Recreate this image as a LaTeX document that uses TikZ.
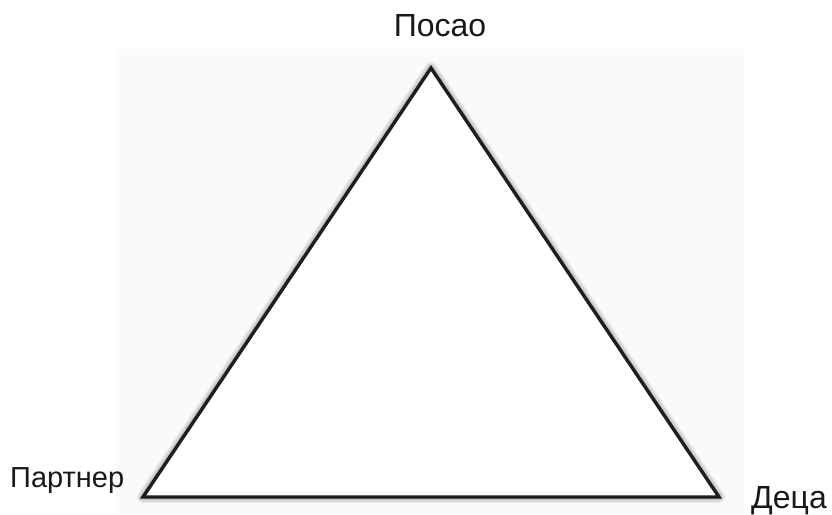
\documentclass[tikz,border=0pt]{standalone}
\usepackage{fontspec}
\setmainfont{Liberation Sans}
\usepackage{xcolor}
\usetikzlibrary{positioning}

\definecolor{paneGray}{HTML}{FAFAFA}
\definecolor{edgeBlack}{HTML}{1E1E1E}

\begin{document}
\begin{tikzpicture}[
  x=1pt, y=-1pt,
  label/.style={font=\fontsize{32}{36}\selectfont, text=black!90, inner sep=0pt},
  edge/.style={draw=edgeBlack, line width=3.4pt, line join=miter},
  shade/.style={draw=black, line join=round, opacity=0.07}
]
\useasboundingbox (0,0) rectangle (832,514);
\fill[white] (0,0) rectangle (832,514);
\fill[paneGray] (116,49) rectangle (744,514);
% corners of the triangle
\coordinate (top) at (431,68);
\coordinate (left) at (143,497);
\coordinate (right) at (719,497);
% soft shadow
\foreach \w in {12,9,6,4} {
  \draw[shade, line width=\w pt, shift={(3,5)}] (top) -- (right) -- (left) -- cycle;
}
\fill[white] (top) -- (right) -- (left) -- cycle;
\draw[edge] (top) -- (right) -- (left) -- cycle;
% labels
\node[label, anchor=base] (posao) at (440,36) {Посао};
\node[label, font=\fontsize{29}{33}\selectfont, anchor=base west] (partner) at (10,487) {Партнер};
\node[label, anchor=base west] (deca) at (751,508) {Деца};
\end{tikzpicture}
\end{document}
